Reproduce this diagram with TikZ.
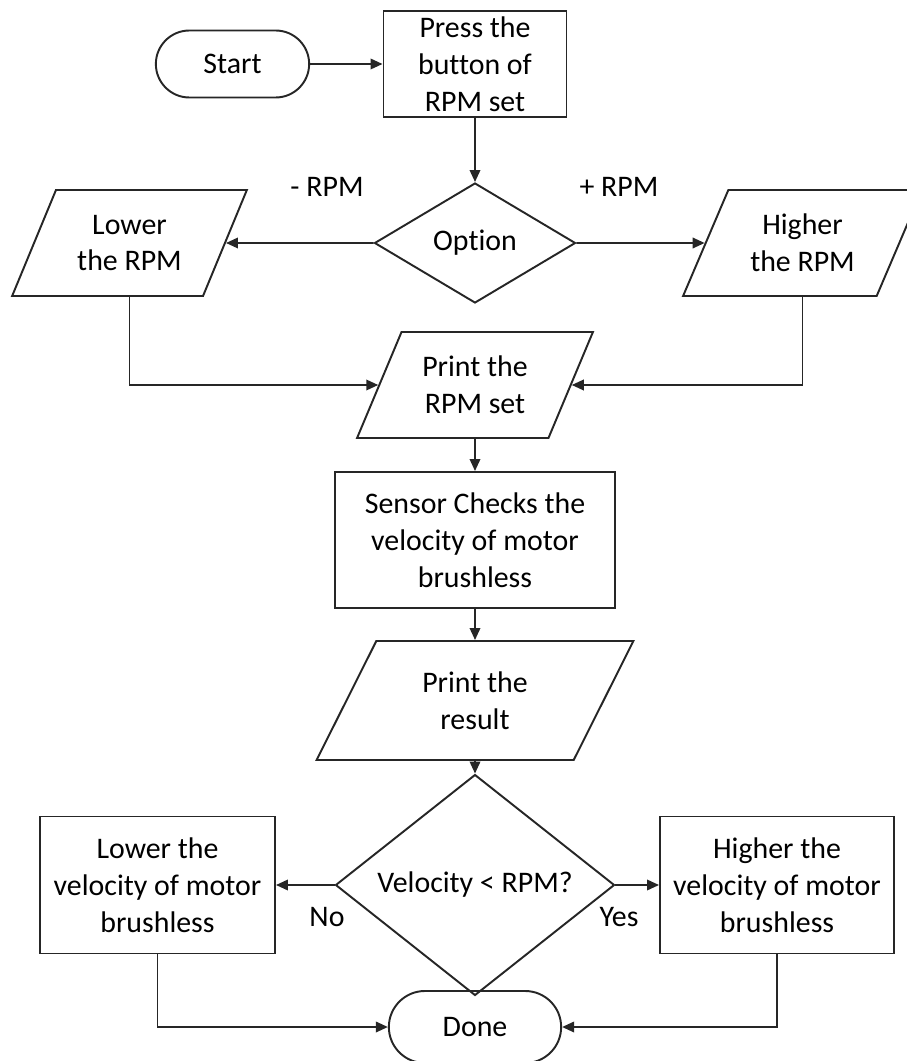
\documentclass[tikz,border=0pt]{standalone}
\usepackage{fontspec}
\setmainfont{Carlito}[Ligatures=NoCommon]
\usetikzlibrary{shapes.geometric}
\usetikzlibrary{shapes.misc}
\usetikzlibrary{arrows.meta}

\tikzset{
    terminal/.style={draw, rounded rectangle, minimum height=1.4cm, align=center},
    process/.style={draw, rectangle, align=center},
    io/.style={draw, trapezium, trapezium left angle=63, trapezium right angle=117,
        trapezium stretches=true, align=center},
    decision/.style={draw, diamond, inner sep=0pt, align=center},
    flow/.style={-{Triangle[length=2.4mm,width=2.1mm]}}
}

\begin{document}
\begin{tikzpicture}[line width=1.1pt, draw=black!85, font=\fontsize{17}{21}\selectfont]
    \useasboundingbox (0,0) rectangle (18.14,-21.22);

    \node[terminal, minimum width=3.3cm, minimum height=1.34cm] (start) at (4.65,-1.28) {Start};
    \node[process, minimum width=3.66cm, minimum height=2.12cm] (press) at (9.5,-1.28) {Press the\\button of\\RPM set};
    \node[decision, minimum width=4.02cm, minimum height=2.4cm] (option) at (9.5,-4.86) {Option};
    \node[io, minimum width=4.7cm, minimum height=2.12cm] (lowerrpm) at (2.59,-4.86) {Lower\\the RPM};
    \node[io, minimum width=4.78cm, minimum height=2.12cm] (higherrpm) at (16.05,-4.86) {Higher\\the RPM};
    \node (minus) at (6.54,-3.74) {- RPM};
    \node (plus) at (12.38,-3.74) {+ RPM};
    \node[io, minimum width=4.72cm, minimum height=2.12cm] (printrpm) at (9.5,-7.7) {Print the\\RPM set};
    \node[process, minimum width=5.6cm, minimum height=2.72cm] (sensor) at (9.5,-10.8) {Sensor Checks the\\velocity of motor\\brushless};
    \node[io, minimum width=6.34cm, minimum height=2.38cm] (printres) at (9.5,-14.01) {Print the\\result};
    \node[decision, minimum width=5.58cm, minimum height=3.26cm] (check) at (9.5,-17.7) {Velocity < RPM?};
    \node[process, minimum width=4.7cm, minimum height=2.74cm] (lowervel) at (3.15,-17.7) {Lower the\\velocity of motor\\brushless};
    \node[process, minimum width=4.68cm, minimum height=2.74cm] (highervel) at (15.54,-17.7) {Higher the\\velocity of motor\\brushless};
    \node (no) at (6.54,-18.34) {No};
    \node (yes) at (12.38,-18.34) {Yes};
    \node[terminal, minimum width=3.68cm, minimum height=1.44cm] (done) at (9.5,-20.54) {Done};

    \draw[flow] (start) -- (press);
    \draw[flow] (press) -- (option);
    \draw[flow] (option) -- (lowerrpm);
    \draw[flow] (option) -- (higherrpm);
    \draw[flow] (lowerrpm) |- (printrpm);
    \draw[flow] (higherrpm) |- (printrpm);
    \draw[flow] (printrpm) -- (sensor);
    \draw[flow] (sensor) -- (printres);
    \draw[flow] (printres) -- (check);
    \draw[flow] (check) -- (lowervel);
    \draw[flow] (check) -- (highervel);
    \draw[flow] (lowervel) |- (done);
    \draw[flow] (highervel) |- (done);
\end{tikzpicture}
\end{document}
